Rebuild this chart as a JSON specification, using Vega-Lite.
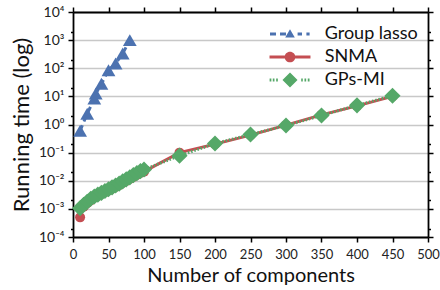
{
  "$schema": "https://vega.github.io/schema/vega-lite/v6.json",
  "width": 355,
  "height": 225,
  "autosize": {"type": "none"},
  "padding": {"left": 73, "top": 12, "right": 12, "bottom": 53},
  "background": "white",
  "config": {
    "view": {"stroke": null},
    "font": "Lato",
    "axis": {"labelFont": "Lato", "titleFont": "Lato", "titleFontWeight": "normal", "domainColor": "#000", "domainWidth": 1.8, "tickColor": "#000", "tickWidth": 1.5, "labelColor": "#222", "titleColor": "#111"}
  },
  "datasets": {
    "d": [
      {"series": "Group lasso", "n": 10, "t": 0.6},
      {"series": "Group lasso", "n": 20, "t": 2.4},
      {"series": "Group lasso", "n": 30, "t": 8.3},
      {"series": "Group lasso", "n": 32, "t": 12.5},
      {"series": "Group lasso", "n": 40, "t": 28},
      {"series": "Group lasso", "n": 50, "t": 85},
      {"series": "Group lasso", "n": 60, "t": 147},
      {"series": "Group lasso", "n": 70, "t": 333},
      {"series": "Group lasso", "n": 80, "t": 1000},
      {"series": "SNMA", "n": 10, "t": 0.0005},
      {"series": "SNMA", "n": 15, "t": 0.0012},
      {"series": "SNMA", "n": 20, "t": 0.0016},
      {"series": "SNMA", "n": 25, "t": 0.002},
      {"series": "SNMA", "n": 30, "t": 0.0025},
      {"series": "SNMA", "n": 35, "t": 0.0029},
      {"series": "SNMA", "n": 40, "t": 0.0034},
      {"series": "SNMA", "n": 45, "t": 0.0039},
      {"series": "SNMA", "n": 50, "t": 0.0045},
      {"series": "SNMA", "n": 55, "t": 0.0052},
      {"series": "SNMA", "n": 60, "t": 0.006},
      {"series": "SNMA", "n": 65, "t": 0.007},
      {"series": "SNMA", "n": 70, "t": 0.0083},
      {"series": "SNMA", "n": 75, "t": 0.0098},
      {"series": "SNMA", "n": 80, "t": 0.0115},
      {"series": "SNMA", "n": 85, "t": 0.0135},
      {"series": "SNMA", "n": 90, "t": 0.016},
      {"series": "SNMA", "n": 95, "t": 0.019},
      {"series": "SNMA", "n": 100, "t": 0.021},
      {"series": "SNMA", "n": 150, "t": 0.1},
      {"series": "SNMA", "n": 200, "t": 0.2},
      {"series": "SNMA", "n": 250, "t": 0.42},
      {"series": "SNMA", "n": 300, "t": 0.95},
      {"series": "SNMA", "n": 350, "t": 2.2},
      {"series": "SNMA", "n": 400, "t": 4.6},
      {"series": "SNMA", "n": 450, "t": 10},
      {"series": "GPs-MI", "n": 10, "t": 0.00105},
      {"series": "GPs-MI", "n": 15, "t": 0.0014},
      {"series": "GPs-MI", "n": 20, "t": 0.0018},
      {"series": "GPs-MI", "n": 25, "t": 0.0023},
      {"series": "GPs-MI", "n": 30, "t": 0.00275},
      {"series": "GPs-MI", "n": 35, "t": 0.0032},
      {"series": "GPs-MI", "n": 40, "t": 0.0037},
      {"series": "GPs-MI", "n": 45, "t": 0.0043},
      {"series": "GPs-MI", "n": 50, "t": 0.005},
      {"series": "GPs-MI", "n": 55, "t": 0.0058},
      {"series": "GPs-MI", "n": 60, "t": 0.0068},
      {"series": "GPs-MI", "n": 65, "t": 0.0079},
      {"series": "GPs-MI", "n": 70, "t": 0.0095},
      {"series": "GPs-MI", "n": 75, "t": 0.0112},
      {"series": "GPs-MI", "n": 80, "t": 0.0132},
      {"series": "GPs-MI", "n": 85, "t": 0.0158},
      {"series": "GPs-MI", "n": 90, "t": 0.0186},
      {"series": "GPs-MI", "n": 95, "t": 0.0219},
      {"series": "GPs-MI", "n": 100, "t": 0.025},
      {"series": "GPs-MI", "n": 150, "t": 0.078},
      {"series": "GPs-MI", "n": 200, "t": 0.21},
      {"series": "GPs-MI", "n": 250, "t": 0.44},
      {"series": "GPs-MI", "n": 300, "t": 0.92},
      {"series": "GPs-MI", "n": 350, "t": 2.1},
      {"series": "GPs-MI", "n": 400, "t": 4.8},
      {"series": "GPs-MI", "n": 450, "t": 10.5}
    ]
  },
  "data": {"name": "d"},
  "resolve": {"axis": {"x": "independent", "y": "independent"}},
  "layer": [
    {
      "transform": [{"filter": "datum.series == 'Group lasso'"}],
      "mark": {"type": "line", "strokeWidth": 3, "strokeDash": [6, 4]},
      "encoding": {
        "x": {"field": "n", "type": "quantitative", "scale": {"domain": [0, 500], "nice": false},
          "axis": {"orient": "bottom", "title": "Number of components", "titleFontSize": 20, "titlePadding": 4, "labelFontSize": 13, "labelPadding": 6, "tickSize": 5, "grid": false, "values": [0, 50, 100, 150, 200, 250, 300, 350, 400, 450, 500], "labelFlush": false}},
        "y": {"field": "t", "type": "quantitative", "scale": {"type": "log", "domain": [0.0001, 10000], "nice": false},
          "axis": {"orient": "left", "title": "Running time (log)", "titleFontSize": 22, "titlePadding": 5, "labelFontSize": 14, "labelPadding": 4,
            "values": [0.0001, 0.0002, 0.001, 0.002, 0.01, 0.02, 0.1, 0.2, 1, 2, 10, 20, 100, 200, 1000, 2000, 10000],
            "labelExpr": "abs(log(datum.value)/LN10 - round(log(datum.value)/LN10)) > 0.01 ? '' : '10' + ['⁻⁴','⁻³','⁻²','⁻¹','⁰','¹','²','³','⁴'][round(log(datum.value)/LN10)+4]",
            "tickSize": {"condition": {"test": "abs(log(datum.value)/LN10 - round(log(datum.value)/LN10)) < 0.01", "value": 5}, "value": 2.5},
            "grid": true, "gridColor": "#c8c8c8", "gridWidth": 1.5,
            "gridOpacity": {"condition": {"test": "abs(log(datum.value)/LN10 - round(log(datum.value)/LN10)) < 0.01", "value": 1}, "value": 0}}},
        "color": {"field": "series", "type": "nominal",
          "scale": {"domain": ["Group lasso", "SNMA", "GPs-MI"], "range": ["#4C72B0", "#C44E52", "#55A868"]},
          "legend": {"orient": "none", "legendX": 208, "legendY": 13, "title": null, "padding": 0,
            "symbolSize": 256, "symbolStrokeWidth": 3, "labelFont": "Lato", "labelFontSize": 18, "labelColor": "#111", "labelOffset": 25.7, "rowPadding": 5,
            "encode": {"symbols": {"update": {
              "shape": {"signal": "datum.value == 'Group lasso' ? 'M-2.5,-0.19H-1.75V0.19H-2.5ZM-1.25,-0.19H-0.5V0.19H-1.25ZM0.95,-0.19H1.5V0.19H0.95ZM2.05,-0.19H2.45V0.19H2.05ZM0,-0.6L0.6,0.45L-0.6,0.45Z' : datum.value == 'SNMA' ? 'M-2.56,-0.19H2.56V0.19H-2.56ZM-0.67,0A0.67,0.67 0 1,1 0.67,0A0.67,0.67 0 1,1 -0.67,0Z' : 'M-2.55,-0.19H-2.33V0.19H-2.55ZM-2.15,-0.19H-1.94V0.19H-2.15ZM-1.73,-0.19H-1.52V0.19H-1.73ZM1.4,-0.19H1.6V0.19H1.4ZM1.81,-0.19H2.02V0.19H1.81ZM2.22,-0.19H2.44V0.19H2.22ZM0,-0.94L0.94,0L0,0.94L-0.94,0Z'"},
              "fill": {"scale": "color", "field": "value"},
              "stroke": {"value": "transparent"},
              "strokeWidth": {"value": 0},
              "fillOpacity": {"value": 1},
              "opacity": {"value": 1}}}}}
        }
      }
    },
    {
      "transform": [{"filter": "datum.series == 'Group lasso'"}],
      "mark": {"type": "point", "shape": "triangle-up", "filled": true, "size": 190, "opacity": 1},
      "encoding": {
        "x": {"field": "n", "type": "quantitative", "axis": {"orient": "top", "title": null, "labels": false, "tickSize": 5, "grid": false, "values": [0, 50, 100, 150, 200, 250, 300, 350, 400, 450, 500]}},
        "y": {"field": "t", "type": "quantitative",
          "axis": {"orient": "right", "title": null, "labels": false, "grid": false,
            "values": [0.0001, 0.0002, 0.001, 0.002, 0.01, 0.02, 0.1, 0.2, 1, 2, 10, 20, 100, 200, 1000, 2000, 10000],
            "tickSize": {"condition": {"test": "abs(log(datum.value)/LN10 - round(log(datum.value)/LN10)) < 0.01", "value": 5}, "value": 2.5}}},
        "color": {"field": "series", "type": "nominal"}
      }
    },
    {
      "transform": [{"filter": "datum.series == 'SNMA'"}],
      "mark": {"type": "line", "strokeWidth": 3},
      "encoding": {
        "x": {"field": "n", "type": "quantitative", "axis": null},
        "y": {"field": "t", "type": "quantitative", "axis": null},
        "color": {"field": "series", "type": "nominal"}
      }
    },
    {
      "transform": [{"filter": "datum.series == 'SNMA'"}],
      "mark": {"type": "point", "shape": "circle", "filled": true, "size": 100, "opacity": 1},
      "encoding": {
        "x": {"field": "n", "type": "quantitative", "axis": null},
        "y": {"field": "t", "type": "quantitative", "axis": null},
        "color": {"field": "series", "type": "nominal"}
      }
    },
    {
      "transform": [{"filter": "datum.series == 'GPs-MI'"}],
      "mark": {"type": "line", "strokeWidth": 3, "strokeDash": [1.5, 1.8]},
      "encoding": {
        "x": {"field": "n", "type": "quantitative", "axis": null},
        "y": {"field": "t", "type": "quantitative", "axis": null},
        "color": {"field": "series", "type": "nominal"}
      }
    },
    {
      "transform": [{"filter": "datum.series == 'GPs-MI'"}],
      "mark": {"type": "point", "shape": "diamond", "filled": true, "size": 260, "opacity": 1},
      "encoding": {
        "x": {"field": "n", "type": "quantitative", "axis": null},
        "y": {"field": "t", "type": "quantitative", "axis": null},
        "color": {"field": "series", "type": "nominal"}
      }
    }
  ]
}
